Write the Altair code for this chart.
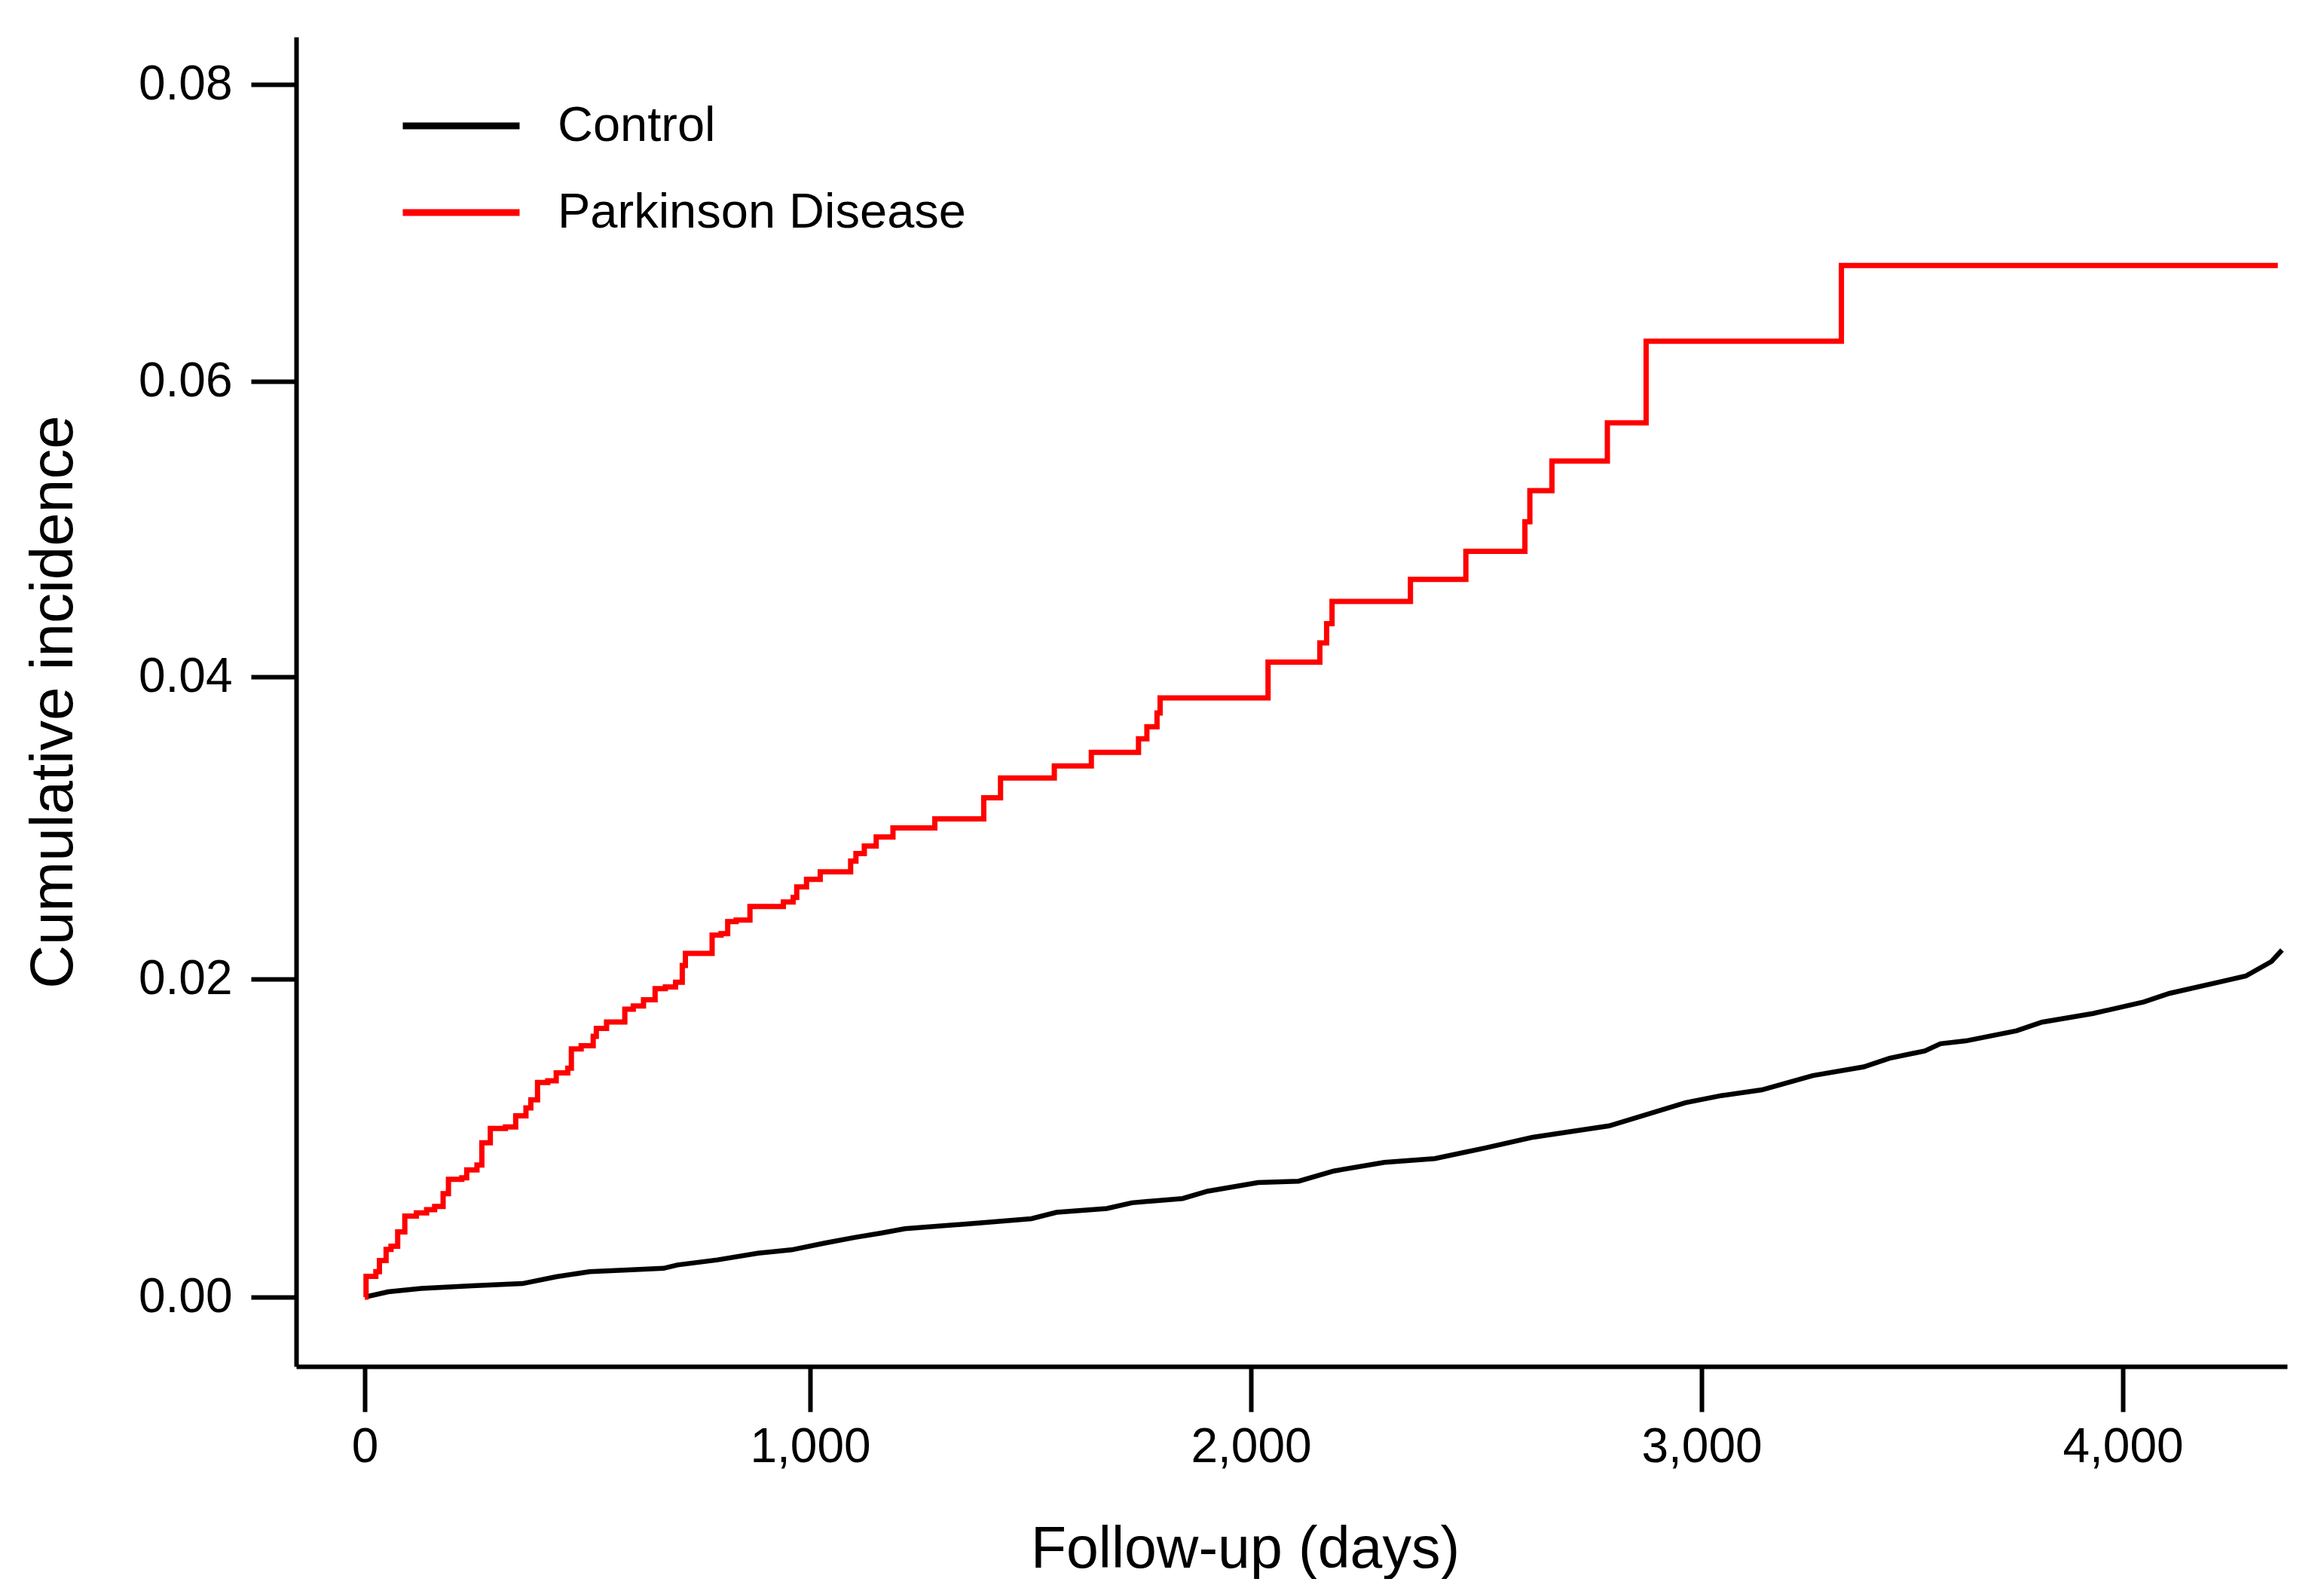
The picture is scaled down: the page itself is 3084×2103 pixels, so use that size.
import altair as alt
import pandas as pd

# ---- data ----
control_days = [0, 52, 127, 241, 354, 430, 505, 581, 671, 702, 792, 883, 958, 1034, 1101,
                1162, 1215, 1387, 1502, 1559, 1673, 1730, 1845, 1902, 2016, 2106, 2184, 2296,
                2408, 2520, 2625, 2795, 2964, 3047, 3143, 3264, 3385, 3446, 3530, 3567, 3627,
                3748, 3808, 3929, 4050, 4111, 4232, 4292, 4353, 4378]
control_values = [0.0, 0.00033, 0.00054, 0.00071, 0.00085, 0.00128, 0.0016, 0.0017, 0.00181,
                  0.00202, 0.00234, 0.00276, 0.00297, 0.0034, 0.00375, 0.00403, 0.0043, 0.00467,
                  0.00493, 0.00533, 0.00557, 0.00593, 0.0062, 0.00666, 0.0072, 0.00729, 0.00793,
                  0.00847, 0.00871, 0.00938, 0.01005, 0.01077, 0.01222, 0.01267, 0.01303,
                  0.01393, 0.01448, 0.01502, 0.01548, 0.01593, 0.01611, 0.01675, 0.01729,
                  0.01783, 0.01856, 0.0191, 0.01983, 0.0202, 0.02116, 0.02192]

pd_days = [0, 3, 25, 33, 48, 59, 74, 90, 116, 139, 157, 176, 188, 218, 229, 252, 263, 282,
           316, 339, 362, 373, 388, 411, 430, 456, 464, 486, 513, 520, 543, 584, 603, 626,
           652, 675, 698, 713, 720, 780, 800, 815, 834, 865, 940, 962, 970, 992, 1023, 1092,
           1104, 1123, 1150, 1188, 1283, 1394, 1432, 1554, 1638, 1745, 1764, 1787, 1794,
           2038, 2153, 2168, 2180, 2354, 2477, 2608, 2619, 2668, 2791, 2877, 3332, 4368]
pd_values = [0.0, 0.0013, 0.0016, 0.0023, 0.0030, 0.0032, 0.0041, 0.0051, 0.0053, 0.0055,
             0.0057, 0.0065, 0.0074, 0.0075, 0.0080, 0.0083, 0.0097, 0.0106, 0.0107, 0.0114,
             0.0119, 0.0124, 0.0135, 0.0136, 0.0141, 0.0144, 0.0156, 0.0158, 0.0164, 0.0169,
             0.0173, 0.0181, 0.0183, 0.0187, 0.0194, 0.0195, 0.0198, 0.0209, 0.0217, 0.0229,
             0.0230, 0.0238, 0.0239, 0.0248, 0.0251, 0.0254, 0.0261, 0.0266, 0.0271, 0.0278,
             0.0283, 0.0288, 0.0294, 0.0300, 0.0306, 0.0320, 0.0333, 0.0341, 0.0350, 0.0359,
             0.0367, 0.0376, 0.0386, 0.0410, 0.0423, 0.0436, 0.0451, 0.0466, 0.0485, 0.0505,
             0.0526, 0.0546, 0.0572, 0.0627, 0.0678, 0.0678]

series_names = ["Control", "Parkinson Disease"]
series_colors = ["#000000", "#ff0000"]
x_ticks = [0, 1000, 2000, 3000, 4000]
y_ticks = [0.0, 0.02, 0.04, 0.06, 0.08]

df = pd.concat([
    pd.DataFrame({"day": control_days, "value": control_values, "group": series_names[0]}),
    pd.DataFrame({"day": pd_days, "value": pd_values, "group": series_names[1]}),
], ignore_index=True)

W, H = 2642, 1764
FONT = "Liberation Sans"

x_scale = alt.Scale(domain=[-154, 0, 1000, 2000, 3000, 4000, 4390],
                    range=[0, 91, 682, 1267, 1865, 2424, W], nice=False, zero=False)
y_scale = alt.Scale(domain=[-0.00436, 0.0, 0.02, 0.04, 0.06, 0.08, 0.0832],
                    range=[H, 1672, 1250, 849, 457, 63, 0], nice=False, zero=False)

x_enc = alt.X("day:Q", scale=x_scale,
              axis=alt.Axis(values=x_ticks, format=",d", title="Follow-up (days)",
                            titleX=1259, titleY=243, titleAlign="center",
                            titleBaseline="middle", titleFontSize=77, labelPadding=15))
y_enc = alt.Y("value:Q", scale=y_scale,
              axis=alt.Axis(values=y_ticks, format=".2f", title="Cumulative incidence",
                            titleX=-322, titleY=882, titleAngle=270, titleAlign="center",
                            titleBaseline="middle", titleFontSize=80, labelPadding=25))
color_enc = alt.Color("group:N",
                      scale=alt.Scale(domain=series_names, range=series_colors),
                      legend=alt.Legend(title=None, orient="none", legendX=137, legendY=36,
                                        symbolType="stroke", symbolSize=24025,
                                        symbolStrokeWidth=9, labelFontSize=65,
                                        labelFont=FONT, labelColor="#000000",
                                        labelLimit=2000, labelOffset=46, rowPadding=-40,
                                        padding=0))

base = alt.Chart(df).encode(x=x_enc, y=y_enc, color=color_enc)

control_layer = base.transform_filter(alt.datum.group == series_names[0]).mark_line(
    strokeWidth=6.5, interpolate="linear")
pd_layer = base.transform_filter(alt.datum.group == series_names[1]).mark_line(
    strokeWidth=7, interpolate="step-after")

chart = alt.layer(control_layer, pd_layer).properties(
    width=W, height=H,
    autosize=alt.AutoSizeParams(type="none"),
    padding={"left": 385, "top": 41, "right": 41, "bottom": 282},
).configure_view(strokeWidth=0).configure_axis(
    domainColor="#000000", domainWidth=6, tickColor="#000000", tickWidth=6,
    tickSize=60, labelFont=FONT, labelFontSize=64, labelColor="#000000",
    titleFont=FONT, titleFontWeight="normal",
    titleColor="#000000", grid=False,
)

chart.save("out.html", embed_options={"renderer": "svg", "actions": False})
